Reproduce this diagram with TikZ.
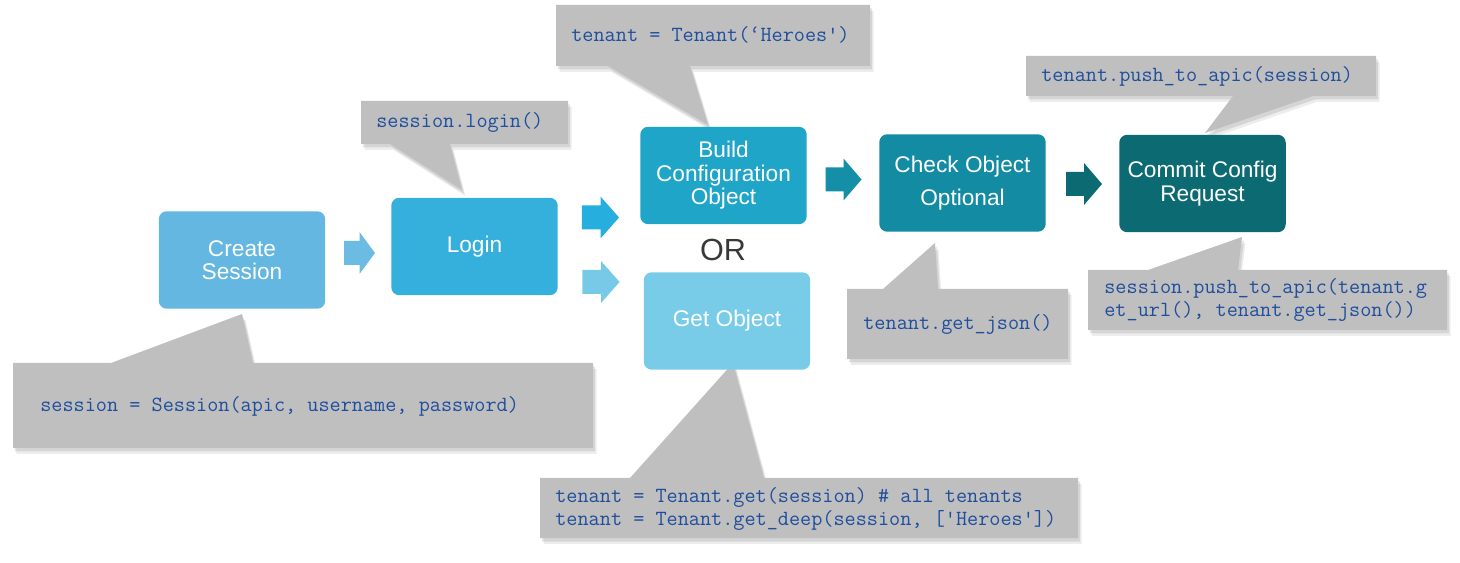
\documentclass[tikz,border=0pt]{standalone}
\usepackage{fontspec}
\newfontfamily\boxfont{Liberation Sans}
\usetikzlibrary{shadows}

\definecolor{createblue}{HTML}{63B7E1}
\definecolor{loginblue}{HTML}{35B0DD}
\definecolor{buildblue}{HTML}{1EA5C8}
\definecolor{getblue}{HTML}{78CCE8}
\definecolor{checkteal}{HTML}{138BA2}
\definecolor{committeal}{HTML}{0C6A72}
\definecolor{arrowblue}{HTML}{26AEDF}
\definecolor{calloutgray}{HTML}{BFBFBF}
\definecolor{codeblue}{HTML}{1F4E9C}
\definecolor{orgray}{HTML}{383838}

\begin{document}
\begin{tikzpicture}[x=0.02cm,y=-0.02cm,
  stepbox/.style={rounded corners=0.16cm, text=white, align=center,
    minimum width=3.33cm, minimum height=1.95cm, inner sep=0pt,
    font=\boxfont\fontsize{12.9}{13.4}\selectfont},
  callout/.style={fill=calloutgray,
    general shadow={shadow xshift=0.07cm, shadow yshift=-0.12cm, opacity=0.07, fill=black},
    general shadow={shadow xshift=0.04cm, shadow yshift=-0.07cm, opacity=0.1, fill=black}},
  code/.style={anchor=west, align=left, inner sep=0pt, text=codeblue,
    font=\ttfamily\fontsize{12.3}{12.6}\selectfont},
  blockarr/.pic={\path[pic actions] (-18,-12) -- (0,-12) -- (0,-21) -- (18,0)
    -- (0,21) -- (0,12) -- (-18,12) -- cycle;}]
  \useasboundingbox (0,0) rectangle (1460,563);

  % callouts
  \fill[callout] (13,363) -- (111,363) -- (242,314) -- (253,363) -- (593,363)
    -- (593,448) -- (13,448) -- cycle;
  \fill[callout] (361,101) -- (568,101) -- (568,144) -- (450,144) -- (462,190)
    -- (390,144) -- (361,144) -- cycle;
  \fill[callout] (556,5) -- (870,5) -- (870,66) -- (690,66) -- (708,125)
    -- (608,66) -- (556,66) -- cycle;
  \fill[callout] (847,289) -- (883,289) -- (935,243) -- (938,289) -- (1068,289)
    -- (1068,359) -- (847,359) -- cycle;
  \fill[callout] (1026,56) -- (1376,56) -- (1376,96) -- (1313,96) -- (1205,133)
    -- (1233,96) -- (1026,96) -- cycle;
  \fill[callout] (1088,270) -- (1148,270) -- (1242,237) -- (1238,270) -- (1447,270)
    -- (1447,330) -- (1088,330) -- cycle;
  \fill[callout] (540,478) -- (630,478) -- (733,363) -- (764,478) -- (1078,478)
    -- (1078,538) -- (540,538) -- cycle;

  % code in the callouts
  \node[code] (sessioncode) at (40,406) {session = Session(apic, username, password)};
  \node[code] (logincode) at (376,122) {session.login()};
  \node[code] (buildcode) at (571,35) {tenant = Tenant(‘Heroes')};
  \node[code] (checkcode) at (863,324) {tenant.get\_json()};
  \node[code] (pushcode) at (1041,76) {tenant.push\_to\_apic(session)};
  \node[code] (commitcode) at (1104,300)
    {session.push\_to\_apic(tenant.g\\et\_url(), tenant.get\_json())};
  \node[code] (getcode) at (555,509)
    {tenant = Tenant.get(session) \# all tenants\\tenant = Tenant.get\_deep(session, ['Heroes'])};

  % steps
  \node[stepbox, fill=createblue] (create) at (242,260) {Create\\Session};
  \node[stepbox, fill=loginblue] (login) at (474.5,246.5) {Login};
  \node[stepbox, fill=buildblue] (build) at (723.5,175.5) {Build\\Configuration\\Object};
  \node[stepbox, fill=getblue] (get) at (727,321) {Get Object};
  \node[stepbox, fill=checkteal] (check) at (962.5,183) {Check Object\\[5.5pt]Optional};
  \node[stepbox, fill=committeal] (commit) at (1202.5,183.5) {Commit Config\\Request};
  \node[text=orgray, font=\boxfont\fontsize{17.4}{20}\selectfont] (or) at (723,250) {OR};

  % block arrows between the steps
  \pic[fill=createblue!95!white, xscale=0.86] at (359.5,253) {blockarr};
  \pic[fill=arrowblue, xscale=1.03] at (600.5,217.5) {blockarr};
  \pic[fill=getblue!92!createblue, xscale=1.03] at (601,282) {blockarr};
  \pic[fill=checkteal!85!buildblue] at (843.5,179.5) {blockarr};
  \pic[fill=committeal] at (1084,184) {blockarr};

\end{tikzpicture}
\end{document}
